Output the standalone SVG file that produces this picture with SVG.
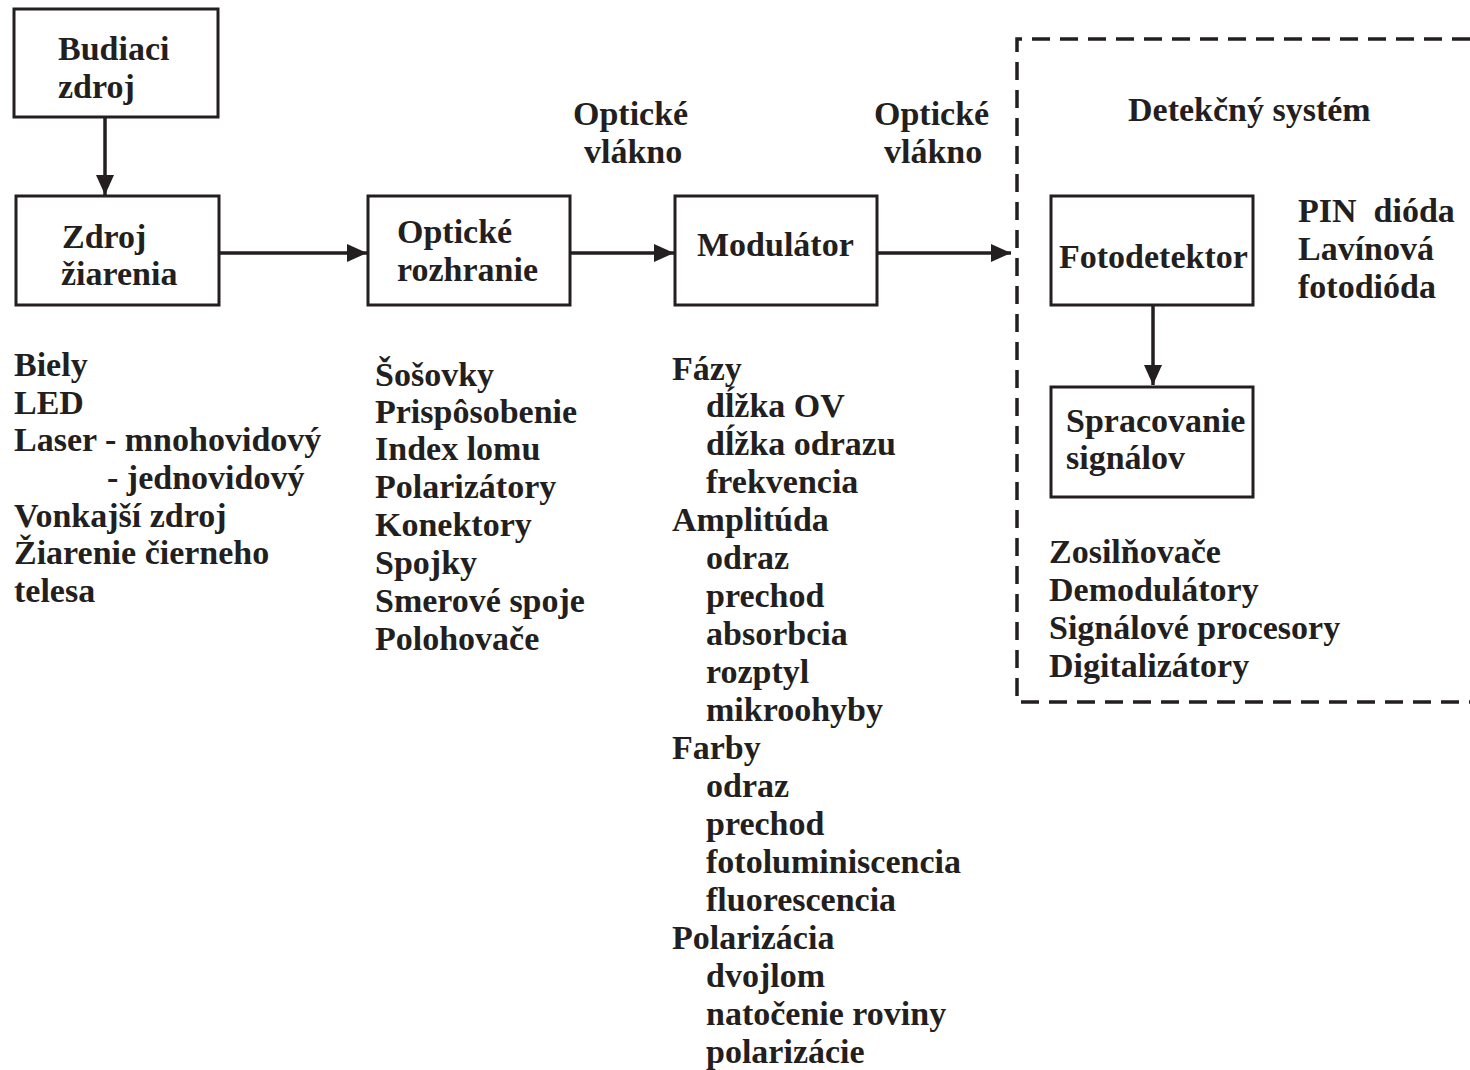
<svg xmlns="http://www.w3.org/2000/svg" width="1470" height="1070" viewBox="0 0 1470 1070">
<defs>
<style>
.box{fill:#fff;stroke:#231f20;stroke-width:3}
.t{font-family:"Liberation Serif","Times New Roman",serif;font-weight:bold;font-size:34px;fill:#231f20}
.c{stroke:#231f20;stroke-width:3.5;fill:none}
.d{stroke:#231f20;stroke-width:3.5;fill:none;stroke-dasharray:18 10}
</style>
<marker id="ah" markerUnits="userSpaceOnUse" markerWidth="22" markerHeight="18" refX="20" refY="9" orient="auto">
<path d="M0,0 L20,9 L0,18 Z" fill="#231f20"/>
</marker>
</defs>
<rect width="1470" height="1070" fill="#fff"/>
<g id="connectors">
<line class="c" x1="105" y1="118" x2="105" y2="195" marker-end="url(#ah)"/>
<line class="c" x1="220" y1="253" x2="367" y2="253" marker-end="url(#ah)"/>
<line class="c" x1="570" y1="253" x2="674" y2="253" marker-end="url(#ah)"/>
<line class="c" x1="877" y1="253" x2="1011" y2="253" marker-end="url(#ah)"/>
<line class="c" x1="1153" y1="306" x2="1153" y2="385" marker-end="url(#ah)"/>
</g>
<g id="detection-system">
<path class="d" d="M1470,39 H1017 V702 H1470"/>
<text class="t" x="1128" y="121">Detekčný systém</text>
</g>
<g id="budiaci-zdroj">
<rect class="box" x="14" y="9" width="204" height="108"/>
<text class="t" x="58" y="60">Budiaci</text>
<text class="t" x="58" y="98">zdroj</text>
</g>
<g id="zdroj-ziarenia">
<rect class="box" x="16" y="196" width="203" height="109"/>
<text class="t" x="62" y="248">Zdroj</text>
<text class="t" x="61" y="285">žiarenia</text>
</g>
<g id="opticke-rozhranie">
<rect class="box" x="368" y="196" width="202" height="109"/>
<text class="t" x="397" y="243">Optické</text>
<text class="t" x="397" y="281">rozhranie</text>
</g>
<g id="modulator">
<rect class="box" x="675" y="196" width="202" height="109"/>
<text class="t" x="697" y="256">Modulátor</text>
</g>
<g id="fotodetektor">
<rect class="box" x="1051" y="196" width="202" height="109"/>
<text class="t" x="1059" y="268">Fotodetektor</text>
</g>
<g id="spracovanie-signalov">
<rect class="box" x="1051" y="387" width="202" height="110"/>
<text class="t" x="1066" y="432">Spracovanie</text>
<text class="t" x="1066" y="469">signálov</text>
</g>
<g id="labels">
<text class="t" x="573" y="125">Optické</text>
<text class="t" x="584" y="163">vlákno</text>
<text class="t" x="874" y="125">Optické</text>
<text class="t" x="884" y="163">vlákno</text>
<text class="t" x="1298" y="222" xml:space="preserve">PIN  dióda</text>
<text class="t" x="1298" y="260">Lavínová</text>
<text class="t" x="1298" y="298">fotodióda</text>
<text class="t" x="1049" y="563">Zosilňovače</text>
<text class="t" x="1049" y="601">Demodulátory</text>
<text class="t" x="1049" y="639">Signálové procesory</text>
<text class="t" x="1049" y="677">Digitalizátory</text>
<text class="t" x="14" y="376">Biely</text>
<text class="t" x="14" y="414">LED</text>
<text class="t" x="14" y="451">Laser - mnohovidový</text>
<text class="t" x="107" y="489">- jednovidový</text>
<text class="t" x="14" y="527">Vonkajší zdroj</text>
<text class="t" x="14" y="564">Žiarenie čierneho</text>
<text class="t" x="14" y="602">telesa</text>
<text class="t" x="375" y="386">Šošovky</text>
<text class="t" x="375" y="423">Prispôsobenie</text>
<text class="t" x="375" y="460">Index lomu</text>
<text class="t" x="375" y="498">Polarizátory</text>
<text class="t" x="375" y="536">Konektory</text>
<text class="t" x="375" y="574">Spojky</text>
<text class="t" x="375" y="612">Smerové spoje</text>
<text class="t" x="375" y="650">Polohovače</text>
<text class="t" x="672" y="380">Fázy</text>
<text class="t" x="706" y="417">dĺžka OV</text>
<text class="t" x="706" y="455">dĺžka odrazu</text>
<text class="t" x="706" y="493">frekvencia</text>
<text class="t" x="672" y="531">Amplitúda</text>
<text class="t" x="706" y="569">odraz</text>
<text class="t" x="706" y="607">prechod</text>
<text class="t" x="706" y="645">absorbcia</text>
<text class="t" x="706" y="683">rozptyl</text>
<text class="t" x="706" y="721">mikroohyby</text>
<text class="t" x="672" y="759">Farby</text>
<text class="t" x="706" y="797">odraz</text>
<text class="t" x="706" y="835">prechod</text>
<text class="t" x="706" y="873">fotoluminiscencia</text>
<text class="t" x="706" y="911">fluorescencia</text>
<text class="t" x="672" y="949">Polarizácia</text>
<text class="t" x="706" y="987">dvojlom</text>
<text class="t" x="706" y="1025">natočenie roviny</text>
<text class="t" x="706" y="1063">polarizácie</text>
</g>
</svg>
